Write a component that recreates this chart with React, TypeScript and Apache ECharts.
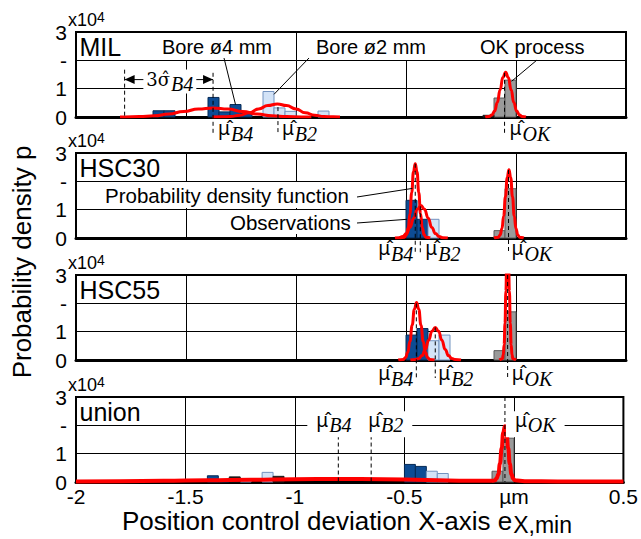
import React, { useEffect, useRef } from 'react';
import * as echarts from 'echarts';

const SANS = '"Liberation Sans", Arial, Helvetica, sans-serif';
const SERIF = '"Liberation Serif", "Times New Roman", Times, serif';
const MARK_SANS = '"Noto Sans", "DejaVu Sans", sans-serif';
const MARK_SERIF = '"DejaVu Serif", "Noto Sans", serif';

// ---------------- data (densities in units of 10^4) ----------------
const panelNames = ['MIL', 'HSC30', 'HSC55', 'union'];
const yTickText = ['0', '1', '-', '3'];
const BIN = 0.05; // histogram bin width (bins given by their start)

// histogram bins: [bin start, density]
const milDark = [[-1.65, 0.22], [-1.6, 0.22], [-1.4, 0.69], [-1.35, 0.18], [-1.3, 0.44], [-1.25, 0.12]];
const milLight = [[-1.15, 0.9], [-1.1, 0.32], [-1.05, 0.2], [-0.9, 0.21]];
const milGray = [[-0.1, 0.67], [-0.05, 1.3]];
const milBlack = [[-0.15, 0.06]];

const hsc30Dark = [[-0.5, 1.33], [-0.45, 0.66]];
const hsc30Light = [[-0.4, 0.66]];
const hsc30Gray = [[-0.1, 0.26], [-0.05, 1.74]];

const hsc55Dark = [[-0.5, 0.88], [-0.45, 1.11]];
const hsc55Light = [[-0.4, 0.68], [-0.35, 0.88]];
const hsc55Gray = [[-0.1, 0.33], [-0.05, 1.7]];

const unionDark = [[-1.4, 0.22], [-1.35, 0.06], [-0.5, 0.62], [-0.45, 0.55]];
const unionLight = [[-1.25, 0.1], [-1.15, 0.34], [-0.4, 0.38], [-0.35, 0.3]];
const unionBlack = [[-1.65, 0.08], [-1.6, 0.08], [-1.3, 0.18], [-1.1, 0.2]];
const unionGray = [[-0.1, 0.38], [-0.05, 1.55]];

// probability density curves: [x, density]
const milCurveB4 = [[-1.8, 0], [-1.779, 0.004], [-1.712, 0.014], [-1.645, 0.043], [-1.578, 0.104], [-1.511, 0.194], [-1.444, 0.282], [-1.377, 0.32], [-1.31, 0.282], [-1.243, 0.194], [-1.176, 0.104], [-1.109, 0.043], [-1.042, 0.014], [-0.975, 0.004], [-0.93, 0]];
const milCurveB2 = [[-1.38, 0], [-1.34, 0.005], [-1.298, 0.02], [-1.255, 0.062], [-1.213, 0.149], [-1.17, 0.279], [-1.128, 0.406], [-1.085, 0.46], [-1.043, 0.406], [-1.0, 0.279], [-0.958, 0.149], [-0.915, 0.062], [-0.873, 0.02], [-0.83, 0.005], [-0.8, 0]];
const milCurveOK = [[-0.14, 0], [-0.122, 0.018], [-0.11, 0.07], [-0.097, 0.21], [-0.085, 0.51], [-0.072, 0.96], [-0.06, 1.39], [-0.047, 1.58], [-0.035, 1.39], [-0.022, 0.96], [-0.01, 0.51], [0.003, 0.21], [0.016, 0.07], [0.028, 0.018], [0.045, 0]];

const hsc30CurveB4 = [[-0.53, 0], [-0.506, 0.03], [-0.498, 0.12], [-0.49, 0.36], [-0.482, 0.86], [-0.474, 1.61], [-0.466, 2.34], [-0.458, 2.62], [-0.45, 2.34], [-0.442, 1.61], [-0.434, 0.86], [-0.426, 0.36], [-0.418, 0.12], [-0.41, 0.03], [-0.39, 0]];
const hsc30CurveB2 = [[-0.55, 0], [-0.531, 0.013], [-0.515, 0.05], [-0.498, 0.156], [-0.482, 0.373], [-0.465, 0.7], [-0.449, 1.015], [-0.432, 1.15], [-0.416, 1.015], [-0.399, 0.7], [-0.383, 0.373], [-0.366, 0.156], [-0.35, 0.05], [-0.333, 0.013], [-0.31, 0]];
const hsc30CurveOK = [[-0.1, 0], [-0.08, 0.03], [-0.072, 0.11], [-0.064, 0.33], [-0.056, 0.78], [-0.048, 1.46], [-0.04, 2.13], [-0.032, 2.41], [-0.024, 2.13], [-0.016, 1.46], [-0.008, 0.78], [0, 0.33], [0.008, 0.11], [0.016, 0.03], [0.035, 0]];

const hsc55CurveB4 = [[-0.535, 0], [-0.512, 0.02], [-0.502, 0.09], [-0.492, 0.27], [-0.482, 0.66], [-0.472, 1.23], [-0.462, 1.79], [-0.452, 2.03], [-0.442, 1.79], [-0.432, 1.23], [-0.422, 0.66], [-0.412, 0.27], [-0.402, 0.09], [-0.392, 0.02], [-0.37, 0]];
const hsc55CurveB2 = [[-0.48, 0], [-0.457, 0.015], [-0.442, 0.05], [-0.427, 0.156], [-0.412, 0.373], [-0.397, 0.7], [-0.382, 1.015], [-0.367, 1.15], [-0.352, 1.015], [-0.337, 0.7], [-0.322, 0.373], [-0.307, 0.156], [-0.292, 0.05], [-0.277, 0.015], [-0.25, 0]];
const hsc55CurveOK = [[-0.075, 0], [-0.062, 0.044], [-0.058, 0.176], [-0.054, 0.54], [-0.05, 1.3], [-0.046, 2.43], [-0.042, 3.53], [-0.038, 4.0], [-0.034, 3.53], [-0.03, 2.43], [-0.026, 1.3], [-0.022, 0.54], [-0.018, 0.176], [-0.014, 0.044], [0, 0]];

const unionCurve = [[-2, 0.02], [-1.8, 0.03], [-1.6, 0.04], [-1.4, 0.06], [-1.2, 0.08], [-1.0, 0.1], [-0.8, 0.11], [-0.6, 0.1], [-0.4, 0.07], [-0.2, 0.04], [-0.1, 0.04], [-0.086, 0.06], [-0.079, 0.13], [-0.071, 0.27], [-0.064, 0.64], [-0.056, 1.19], [-0.049, 1.74], [-0.041, 1.97], [-0.034, 1.74], [-0.026, 1.19], [-0.019, 0.64], [-0.011, 0.27], [-0.004, 0.12], [0.004, 0.06], [0.05, 0.03], [0.2, 0.02], [0.5, 0.02]];

// estimated means (mu-hat) per panel: B4, B2, OK, and the height where each marker starts
const muSubs = ['B4', 'B2', 'OK'];
const muX = [
  [-1.377, -1.082, -0.052],
  [-0.458, -0.435, -0.034],
  [-0.453, -0.367, -0.038],
  [-0.802, -0.652, -0.041],
];
const muTop = [
  [1.56, 0.35, 1.56],
  [2.62, 1.12, 2.4],
  [2.0, 1.15, 3],
  [1.64, 1.64, 3],
];
// 3 sigma-hat of B4 in MIL: from mean - 3 sigma to mean
const milSigmaSpan = [-1.779, -1.377];

// ---------------- layout / style ----------------
const TOPS = [32, 153, 275, 397];
const GH = 85;
const GL = 76;
const GW = 550;
const C_DARK = '#0d4c94';
const C_DARK_B = '#062a55';
const C_LIGHT = '#d3e3f7';
const C_LIGHT_B = '#7393c0';
const C_GRAY = '#9a9a9a';
const C_GRAY_B = '#5a5a5a';
const C_BLACK = '#1a1a1a';
const RED = '#ff0000';

function bars(g: number, data: number[][], fill: string, stroke: string) {
  return {
    type: 'custom',
    xAxisIndex: g,
    yAxisIndex: g,
    data,
    encode: { x: 0, y: 1 },
    z: 2,
    renderItem: (_p: any, api: any) => {
      const x0 = api.value(0);
      const h = api.value(1);
      const a = api.coord([x0, h]);
      const b = api.coord([x0 + BIN, 0]);
      return {
        type: 'rect',
        shape: { x: a[0], y: a[1], width: b[0] - a[0], height: b[1] - a[1] },
        style: { fill, stroke, lineWidth: 1 },
      };
    },
  };
}

function curve(g: number, data: number[][], width = 3) {
  return {
    type: 'line',
    xAxisIndex: g,
    yAxisIndex: g,
    data,
    smooth: 0.5,
    smoothMonotone: 'x',
    symbol: 'none',
    clip: true,
    z: 5,
    lineStyle: { color: RED, width },
  };
}

export default function App() {
  const ref = useRef<HTMLDivElement>(null);

  useEffect(() => {
    const chart = echarts.init(ref.current!, null, { renderer: 'svg' });
    const mctx = document.createElement('canvas').getContext('2d')!;
    const measure = (s: string, font: string) => {
      mctx.font = font;
      return mctx.measureText(s).width;
    };

    const grid = TOPS.map((t) => ({
      left: GL, width: GW, top: t, height: GH,
      show: true, borderColor: '#000', borderWidth: 2, backgroundColor: '#fff',
    }));
    const xAxis = TOPS.map((_, i) => ({
      type: 'value', gridIndex: i, min: -2, max: 0.5, interval: 0.5,
      axisLine: { show: true, onZero: false, lineStyle: { color: '#000', width: 3 } },
      axisTick: { show: false },
      axisLabel: {
        show: i === 3, color: '#000', fontSize: 21, fontFamily: SANS, margin: 4,
        formatter: (v: number) => (v === 0 ? 'µm' : String(v)),
      },
      splitLine: { show: true, lineStyle: { color: '#000', width: 1 } },
    }));
    const yAxis = TOPS.map((_, i) => ({
      type: 'value', gridIndex: i, min: 0, max: 3, interval: 1,
      axisLine: { show: false },
      axisTick: { show: false },
      axisLabel: {
        color: '#000', fontSize: 21, fontFamily: SANS, margin: 9,
        formatter: (v: number) => yTickText[Math.round(v)],
      },
      splitLine: { show: true, lineStyle: { color: '#000', width: 1 } },
    }));

    const series: any[] = [
      bars(0, milDark, C_DARK, C_DARK_B),
      bars(0, milLight, C_LIGHT, C_LIGHT_B),
      bars(0, milGray, C_GRAY, C_GRAY_B),
      bars(0, milBlack, C_BLACK, C_BLACK),
      curve(0, milCurveB4),
      curve(0, milCurveB2),
      curve(0, milCurveOK),

      bars(1, hsc30Dark, C_DARK, C_DARK_B),
      bars(1, hsc30Light, C_LIGHT, C_LIGHT_B),
      bars(1, hsc30Gray, C_GRAY, C_GRAY_B),
      curve(1, hsc30CurveB2),
      curve(1, hsc30CurveB4),
      curve(1, hsc30CurveOK),

      bars(2, hsc55Dark, C_DARK, C_DARK_B),
      bars(2, hsc55Light, C_LIGHT, C_LIGHT_B),
      bars(2, hsc55Gray, C_GRAY, C_GRAY_B),
      curve(2, hsc55CurveB2),
      curve(2, hsc55CurveB4),
      curve(2, hsc55CurveOK),

      bars(3, unionDark, C_DARK, C_DARK_B),
      bars(3, unionLight, C_LIGHT, C_LIGHT_B),
      bars(3, unionBlack, C_BLACK, C_BLACK),
      bars(3, unionGray, C_GRAY, C_GRAY_B),
      curve(3, unionCurve, 4),
    ];

    chart.setOption({
      animation: false,
      backgroundColor: '#fff',
      grid, xAxis, yAxis, series,
    });

    const P = (g: number, x: number, y: number) =>
      chart.convertToPixel({ gridIndex: g } as any, [x, y]) as number[];
    const Z = 30;
    const els: any[] = [];
    const txt = (x: number, y: number, text: string, st: any = {}, extra: any = {}) => ({
      type: 'text', z: Z, x, y,
      style: { text, fill: '#000', fontFamily: SANS, fontSize: 20, align: 'left', verticalAlign: 'middle', ...st },
      ...extra,
    });
    const seg = (x1: number, y1: number, x2: number, y2: number, dash?: number[]) => ({
      type: 'line', z: Z,
      shape: { x1, y1, x2, y2 },
      style: { stroke: '#000', lineWidth: 1, lineDash: dash },
    });
    const DASH = [4, 3];

    // hat-accented symbol (combining circumflex) followed by an italic subscript
    const F_SUB = `italic 20px ${SERIF}`;
    const hatted = (left: number, yTop: number, body: string, family: string, size: number,
      sub: string, subDy: number) => {
      const wBody = measure(body, `${size}px ${family}`);
      return [
        { type: 'text', z: Z + 2, x: left, y: yTop,
          style: { text: body + '\u0302', fill: '#000', fontFamily: family, fontSize: size, lineHeight: 22, align: 'left', verticalAlign: 'top' } },
        { type: 'text', z: Z + 2, x: left + wBody + 1, y: yTop + subDy,
          style: { text: sub, fill: '#000', fontFamily: SERIF, fontStyle: 'italic', fontSize: 20, lineHeight: 22, align: 'left', verticalAlign: 'top' } },
      ];
    };
    const hattedWidth = (body: string, family: string, size: number, sub: string) =>
      measure(body, `${size}px ${family}`) + 1 + measure(sub, F_SUB);

    // panel names and "x10^4"
    TOPS.forEach((t, g) => {
      els.push(txt(79.5, t + 15, panelNames[g], { fontSize: 25 }));
      els.push({
        type: 'text', z: Z, x: 68, y: t - 24,
        style: {
          text: '{b|x10}{c|4}', fill: '#000', align: 'left', verticalAlign: 'top',
          rich: {
            b: { fontSize: 18, fontFamily: SANS, lineHeight: 18, padding: [3, 0, 0, 0], verticalAlign: 'top' },
            c: { fontSize: 14, fontFamily: SANS, lineHeight: 14, padding: [2, 0, 0, 0], verticalAlign: 'top' },
          },
        },
      });
    });

    // MIL annotations
    const boxT = { verticalAlign: 'top', lineHeight: 27, backgroundColor: '#fff', padding: [0, 2] };
    els.push(txt(160, 33, 'Bore ø4 mm', boxT));
    els.push(txt(314, 33, 'Bore ø2 mm', boxT));
    els.push(txt(478, 33, 'OK process', boxT));
    const e1 = P(0, -1.275, 0.44);
    els.push(seg(224, 58, e1[0], e1[1]));
    const e2 = P(0, -1.1, 0.8);
    els.push(seg(309, 58, e2[0], e2[1]));
    const e3 = P(0, -0.02, 1.26);
    els.push(seg(537, 60, e3[0], e3[1]));

    // 3 sigma annotation
    const sL = P(0, milSigmaSpan[0], 1.32);
    const sR = P(0, milSigmaSpan[1], 1.32);
    const sTop = P(0, milSigmaSpan[0], 1.67);
    const sBase = P(0, milSigmaSpan[0], 0);
    els.push(seg(sL[0], sTop[1], sL[0], sBase[1], DASH));
    els.push(seg(sL[0], sL[1], sR[0], sR[1]));
    els.push({ type: 'polygon', z: Z, shape: { points: [[sL[0], sL[1]], [sL[0] + 10, sL[1] - 4.5], [sL[0] + 10, sL[1] + 4.5]] }, style: { fill: '#000' } });
    els.push({ type: 'polygon', z: Z, shape: { points: [[sR[0], sR[1]], [sR[0] - 10, sR[1] - 4.5], [sR[0] - 10, sR[1] + 4.5]] }, style: { fill: '#000' } });
    {
      const w = hattedWidth('3\u03C3', MARK_SERIF, 18, 'B4');
      const cx = (sL[0] + sR[0]) / 2 + 1;
      const left = cx - w / 2;
      const yTop = sL[1] - 11;
      els.push({ type: 'rect', z: Z + 1, shape: { x: left - 3, y: yTop + 1, width: w + 6, height: 24 }, style: { fill: '#fff' } });
      els.push(...hatted(left, yTop, '3\u03C3', MARK_SERIF, 18, 'B4', 4));
    }

    // HSC30 annotations
    els.push(txt(103, 182, 'Probability density function', { fontSize: 20.5, verticalAlign: 'top', lineHeight: 26, backgroundColor: '#fff', padding: [0, 2] }));
    els.push(txt(228, 210, 'Observations', { fontSize: 20.5, verticalAlign: 'top', lineHeight: 24, backgroundColor: '#fff', padding: [0, 2] }));
    const e4 = P(1, -0.471, 1.75);
    els.push(seg(357, 197, e4[0], e4[1]));
    const e5 = P(1, -0.496, 0.66);
    els.push(seg(357, 223, e5[0], e5[1]));

    // mu-hat markers
    const MU = '\u03BC';
    const muDx = [[5, 4, 5], [-2, 5, 3], [-3, 3, 4], [-22, -3, 10]];
    const muRight = [[false, false, false], [true, false, false], [true, false, false], [false, false, false]];
    const labelTop = [0, -1, 2];
    const below = [16, 16, 18];
    muX.forEach((xs, g) => {
      xs.forEach((mx, i) => {
        const top = P(g, mx, muTop[g][i]);
        const base = P(g, mx, 0);
        const w = hattedWidth(MU, MARK_SANS, 19, muSubs[i]);
        const anchor = top[0] + muDx[g][i];
        const left = muRight[g][i] ? anchor - w : anchor;
        if (g < 3) {
          els.push(seg(top[0], top[1], top[0], base[1] + below[g], DASH));
          els.push(...hatted(left, base[1] + labelTop[g], MU, MARK_SANS, 19, muSubs[i], 6));
        } else {
          els.push(seg(top[0], top[1], top[0], base[1], DASH));
          const yTop = P(g, mx, 2)[1] - 16;
          els.push({ type: 'rect', z: Z + 1, shape: { x: left - 9, y: yTop + 2, width: w + 18, height: 26 }, style: { fill: '#fff' } });
          els.push(...hatted(left, yTop, MU, MARK_SANS, 19, muSubs[i], 5));
        }
      });
    });

    // axis titles
    els.push({
      type: 'text', z: Z, x: 122, y: 508,
      style: {
        text: '{a|Position control deviation X-axis e}{b|X,min}', fill: '#000', align: 'left', verticalAlign: 'top',
        rich: {
          a: { fontSize: 26, fontFamily: SANS, lineHeight: 22, verticalAlign: 'top' },
          b: { fontSize: 23, fontFamily: SANS, lineHeight: 20, verticalAlign: 'top', padding: [5, 0, 0, 1] },
        },
      },
    });
    els.push(txt(22, 262, 'Probability density p', { fontSize: 26, align: 'center' }, { rotation: Math.PI / 2 }));

    chart.setOption({ graphic: { elements: els } });

    return () => chart.dispose();
  }, []);

  return (
    <div
      ref={ref}
      style={{ position: 'absolute', left: 0, top: 0, width: 641, height: 539, background: '#fff' }}
    />
  );
}
